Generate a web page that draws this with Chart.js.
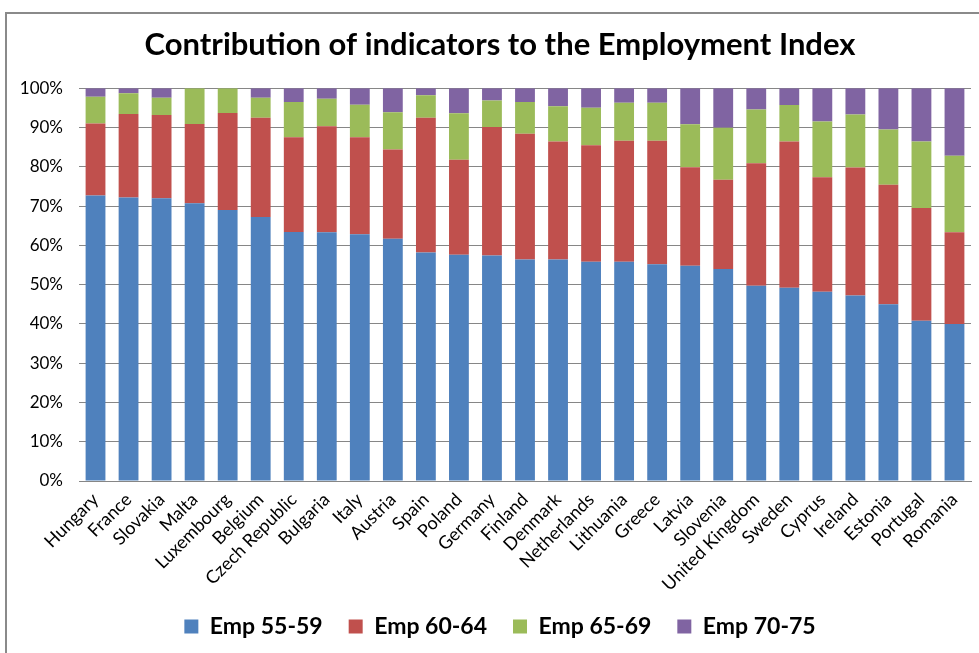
<!DOCTYPE html>
<html>
<head>
<meta charset="utf-8">
<script src="https://cdn.jsdelivr.net/npm/chart.js@4/dist/chart.umd.min.js"></script>
<style>
  html, body { margin: 0; padding: 0; background: #fff; overflow: hidden; }
  #wrap { position: relative; width: 979px; height: 653px; }
  #frame { position: absolute; left: 5px; top: 12px; width: 1000px; height: 700px;
           border-left: 2px solid #8a8a8a; border-top: 2px solid #8a8a8a; }
  canvas { position: absolute; left: 0; top: 0; }
</style>
</head>
<body>
<div id="wrap">
  <div id="frame"></div>
  <canvas id="chart" width="979" height="653"></canvas>
</div>
<script>
// Countries, ordered by the share of the 55-59 group
const countries = ["Hungary", "France", "Slovakia", "Malta", "Luxembourg", "Belgium", "Czech Republic",
  "Bulgaria", "Italy", "Austria", "Spain", "Poland", "Germany", "Finland", "Denmark", "Netherlands",
  "Lithuania", "Greece", "Latvia", "Slovenia", "United Kingdom", "Sweden", "Cyprus", "Ireland",
  "Estonia", "Portugal", "Romania"];

// Contribution of each age-group indicator (percent of the index)
const emp5559 = [72.7, 72.2, 72.0, 70.7, 69.0, 67.2, 63.4, 63.3, 62.8, 61.7, 58.2, 57.6, 57.4, 56.4,
  56.4, 55.8, 55.8, 55.2, 54.8, 54.0, 49.7, 49.2, 48.2, 47.2, 45.0, 40.8, 40.0];
const emp6064 = [18.3, 21.2, 21.2, 20.2, 24.7, 25.3, 24.1, 27.0, 24.7, 22.7, 34.3, 24.2, 32.7, 32.0,
  30.0, 29.7, 30.8, 31.4, 25.1, 22.7, 31.2, 37.2, 29.1, 32.6, 30.4, 28.7, 23.3];
const emp6569 = [6.8, 5.3, 4.4, 9.1, 6.3, 5.1, 9.0, 7.0, 8.3, 9.5, 5.7, 11.8, 6.8, 8.1,
  9.0, 9.5, 9.7, 9.7, 10.9, 13.2, 13.7, 9.3, 14.2, 13.5, 14.1, 16.9, 19.5];
const emp7075 = [2.2, 1.3, 2.4, 0.0, 0.0, 2.4, 3.5, 2.7, 4.2, 6.1, 1.8, 6.4, 3.1, 3.5,
  4.6, 5.0, 3.7, 3.7, 9.2, 10.1, 5.4, 4.3, 8.5, 6.7, 10.5, 13.6, 17.2];

const seriesNames = ["Emp 55-59", "Emp 60-64", "Emp 65-69", "Emp 70-75"];
const seriesColors = ["#4f81bd", "#c0504d", "#9bbb59", "#8064a2"];
const seriesValues = [emp5559, emp6064, emp6569, emp7075];

const FONT = "Lato, 'Open Sans', sans-serif";

new Chart(document.getElementById("chart"), {
  type: "bar",
  data: {
    labels: countries,
    datasets: seriesNames.map((name, i) => ({
      label: name,
      data: seriesValues[i],
      backgroundColor: seriesColors[i],
      borderWidth: 0,
      barPercentage: 0.6,
      categoryPercentage: 1.0
    }))
  },
  options: {
    responsive: false,
    animation: false,
    devicePixelRatio: 1,
    layout: { padding: { left: 21, right: 0, top: 26, bottom: 5 } },
    plugins: {
      title: {
        display: true,
        text: "Contribution of indicators to the Employment Index",
        color: "#000",
        font: { family: FONT, size: 31, weight: "bold" },
        padding: { top: 0, bottom: 25 }
      },
      legend: {
        position: "bottom",
        labels: {
          color: "#000",
          font: { family: FONT, size: 23, weight: "bold" },
          boxWidth: 14,
          boxHeight: 14,
          padding: 26
        }
      },
      tooltip: { enabled: false }
    },
    scales: {
      x: {
        stacked: true,
        grid: { display: false, drawTicks: false },
        border: { display: true, color: "#868686", width: 1 },
        ticks: {
          color: "#000",
          font: { family: FONT, size: 18 },
          minRotation: 45,
          maxRotation: 45,
          autoSkip: false,
          padding: 8
        },
        afterFit: s => { s.height = 108; }
      },
      y: {
        stacked: true,
        min: 0,
        max: 100,
        grid: { color: "#868686", lineWidth: 1, drawTicks: false },
        border: { display: false },
        ticks: {
          stepSize: 10,
          color: "#000",
          font: { family: FONT, size: 17 },
          padding: 16,
          callback: v => v + "%"
        },
        afterFit: s => { s.width = 58; }
      },
      // empty right-hand margin so the plot stops short of the frame edge
      yRight: {
        position: "right",
        display: true,
        grid: { display: false, drawTicks: false },
        border: { display: false },
        ticks: { display: false },
        afterFit: s => { s.width = 8; }
      }
    }
  }
});
</script>
</body>
</html>
